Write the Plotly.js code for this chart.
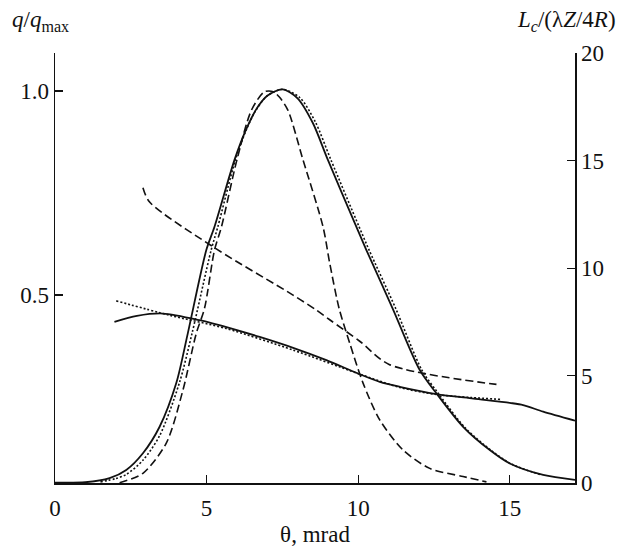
<!DOCTYPE html>
<html>
<head>
<meta charset="utf-8">
<script src="https://cdn.plot.ly/plotly-3.0.1.min.js"></script>
<style>html,body{margin:0;padding:0;background:#fff;}#chart{width:619px;height:547px;}</style>
</head>
<body>
<div id="chart"></div>
<script>
// q/q_max curves (left axis)
const qSolidX = [0, 1.0, 1.8, 2.35, 2.9, 3.45, 4.0, 4.38, 4.99, 5.26, 5.92, 6.3, 6.62, 7.0, 7.5, 8.0, 8.5, 9.0, 9.94, 10.27, 11.13, 12.03, 12.58, 13.46, 14.34, 15.0, 16.1, 17.15];
const qSolidY = [0.04, 0.041, 0.051, 0.071, 0.112, 0.177, 0.284, 0.406, 0.61, 0.667, 0.831, 0.905, 0.953, 0.988, 1.004, 0.982, 0.922, 0.831, 0.667, 0.61, 0.468, 0.316, 0.259, 0.177, 0.12, 0.087, 0.059, 0.047];

const qDashX = [2.13, 2.9, 3.67, 4.22, 4.66, 4.93, 5.26, 5.49, 6.0, 6.48, 6.91, 7.2, 7.4, 7.68, 8.18, 8.84, 9.06, 9.37, 9.72, 10.16, 10.71, 11.48, 12.36, 13.46, 14.23];
const qDashY = [0.04, 0.063, 0.137, 0.267, 0.406, 0.467, 0.61, 0.667, 0.831, 0.953, 0.998, 0.998, 0.985, 0.953, 0.831, 0.667, 0.578, 0.467, 0.382, 0.284, 0.194, 0.12, 0.075, 0.055, 0.042];

const qDotX = [1.5, 2.0, 2.35, 2.9, 3.45, 4.1, 4.52, 5.15, 5.37, 5.95, 6.3, 6.62, 7.0, 7.5, 8.07, 8.58, 9.1, 10.03, 10.36, 11.23, 12.1, 12.64, 13.52, 14.42, 15.07, 16.0];
const qDotY = [0.042, 0.05, 0.06, 0.095, 0.155, 0.284, 0.406, 0.61, 0.667, 0.831, 0.903, 0.952, 0.988, 1.004, 0.984, 0.925, 0.831, 0.667, 0.61, 0.468, 0.316, 0.259, 0.175, 0.117, 0.085, 0.06];

// L_c/(lambda Z/4R) curves (right axis)
const lSolidX = [1.96, 2.7, 3.56, 4.77, 5.8, 6.75, 7.9, 8.95, 9.99, 10.71, 11.37, 12.58, 13.8, 15.0, 15.44, 16.1, 17.15];
const lSolidY = [7.5, 7.78, 7.89, 7.58, 7.2, 6.8, 6.27, 5.72, 5.1, 4.71, 4.48, 4.14, 3.93, 3.73, 3.63, 3.32, 2.9];

const lDashX = [2.9, 3.12, 5.32, 7.85, 8.62, 9.06, 10.05, 11.02, 14.56];
const lDashY = [13.75, 13.08, 10.9, 8.75, 8.05, 7.6, 6.6, 5.52, 4.59];

const lDotX = [2.02, 3.78, 5.65, 7.85, 9.99, 11.37, 12.58, 13.7, 14.73];
const lDotY = [8.48, 7.81, 7.19, 6.19, 5.1, 4.45, 4.12, 3.98, 3.89];

const xTicks = [0, 5, 10, 15];
const yTicks = [0.5, 1.0];
const yTickText = ['0.5', '1.0'];
const y2Ticks = [0, 5, 10, 15, 20];

const SOLID = 'solid', DASH = '8px,4px', DOT = '2px,2px';
function tr(x, y, dash, axis, w) {
  return {x: x, y: y, type: 'scatter', mode: 'lines', yaxis: axis,
    line: {color: '#111', width: w, dash: dash, shape: 'spline', smoothing: 0.8},
    hoverinfo: 'skip', showlegend: false};
}
const data = [
  tr(qSolidX, qSolidY, SOLID, 'y', 1.8),
  tr(qDashX, qDashY, DASH, 'y', 1.6),
  tr(qDotX, qDotY, DOT, 'y', 1.6),
  tr(lSolidX, lSolidY, SOLID, 'y2', 1.8),
  tr(lDashX, lDashY, DASH, 'y2', 1.6),
  tr(lDotX, lDotY, DOT, 'y2', 1.6)
];
const F = {family: 'Liberation Serif', size: 23, color: '#111'};
const layout = {
  width: 619, height: 547,
  margin: {l: 55, r: 44, t: 53, b: 64, pad: 0},
  paper_bgcolor: '#fff', plot_bgcolor: '#fff',
  font: F,
  xaxis: {range: [0, 17.15], tickvals: xTicks, ticks: 'inside', ticklen: 8, tickwidth: 1.3,
    tickcolor: '#111', showline: true, linecolor: '#111', linewidth: 1.5, showgrid: false,
    zeroline: false, tickfont: F, ticklabelstandoff: 4,
    title: {text: 'θ, mrad', font: F, standoff: 7}},
  yaxis: {range: [0.0392, 1.093], tickvals: yTicks, ticktext: yTickText, ticks: 'inside', ticklen: 8,
    tickwidth: 1.3, tickcolor: '#111', showline: true, linecolor: '#111', linewidth: 1.5,
    showgrid: false, zeroline: false, tickfont: F},
  yaxis2: {range: [0, 20.02], tickvals: y2Ticks, overlaying: 'y', side: 'right', ticks: 'inside',
    ticklen: 8, tickwidth: 1.3, tickcolor: '#111', showline: true, linecolor: '#111', linewidth: 1.5,
    showgrid: false, zeroline: false, tickfont: F},
  annotations: [
    {text: '<i>q</i>/<i>q</i><sub>max</sub>', xref: 'paper', yref: 'paper', x: -0.086, y: 1.075,
      xanchor: 'left', yanchor: 'middle', showarrow: false, font: F},
    {text: '<i>L</i><sub><i>c</i></sub>/(λ<i>Z</i>/4<i>R</i>)', xref: 'paper', yref: 'paper', x: 1.083, y: 1.075,
      xanchor: 'right', yanchor: 'middle', showarrow: false, font: F}
  ]
};
Plotly.newPlot('chart', data, layout, {staticPlot: true, displayModeBar: false});
</script>
</body>
</html>
